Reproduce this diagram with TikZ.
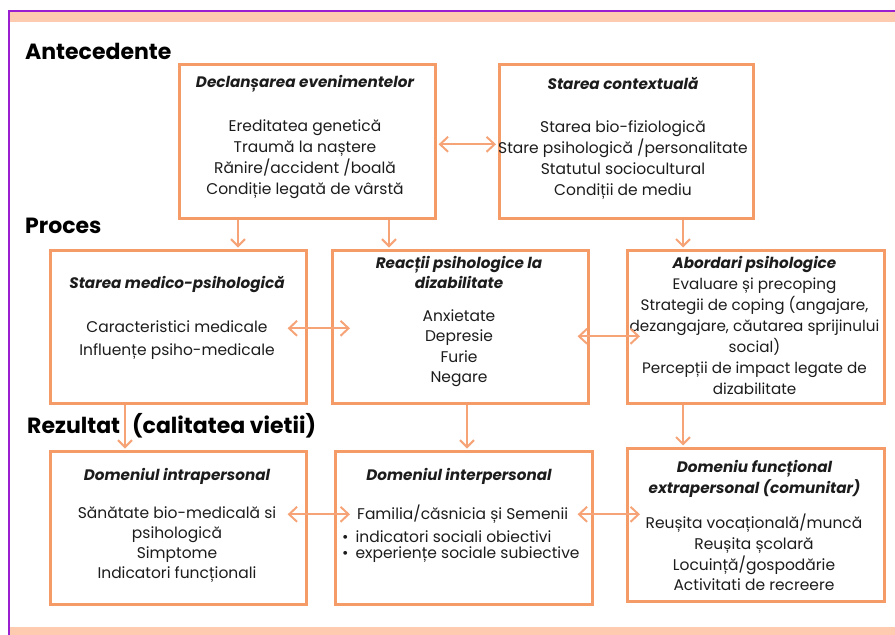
\documentclass[tikz,border=0pt]{standalone}
\usepackage{fontspec}
\setmainfont{Poppins}
\usetikzlibrary{arrows.meta,calc}
\definecolor{boxc}{HTML}{F59B68}
\definecolor{arrc}{HTML}{F6A477}
\definecolor{bandc}{HTML}{FFCBB0}
\definecolor{framec}{HTML}{9A1FD0}
\definecolor{ink}{HTML}{1C1C1C}
\begin{document}
\begin{tikzpicture}[x=1pt,y=-1pt,
  panel/.style={draw=boxc,line width=2.6pt,anchor=north west,inner sep=0pt},
  head/.style={font=\fontsize{15.2}{20.5}\selectfont\bfseries\itshape,text=ink,align=center,inner sep=0pt},
  body/.style={font=\fontsize{15.5}{21}\selectfont,text=ink,align=center,inner sep=0pt},
  section/.style={font=\fontsize{22}{26}\selectfont\bfseries,text=black,anchor=base west,inner sep=0pt},
  flow/.style={draw=arrc,line width=2.4pt,shorten >=1.5pt,-{Straight Barb[length=7pt,width=14pt,line width=2pt]}},
  link/.style={draw=arrc,line width=2pt,{Straight Barb[length=8pt,width=15pt]}-{Straight Barb[length=8pt,width=15pt]}},
]
\useasboundingbox (0,0) rectangle (895,635);

% page frame
\fill[bandc] (10,12) rectangle (895,22);
\fill[bandc] (10,627) rectangle (895,635);
\draw[framec,line width=2pt] (9,635) -- (9,11) -- (895,11);

% section labels
\node[section] (lant) at (25,59) {Antecedente};
\node[section] (lproc) at (25,233) {Proces};
\node[section] (lrez) at (27,433) {Rezultat\hspace{0.55em}(calitatea vietii)};

% boxes
\node[panel,minimum width=256pt,minimum height=154pt] (decl) at (178,63) {};
\node[panel,minimum width=254pt,minimum height=154pt] (ctx) at (498,63) {};
\node[panel,minimum width=256pt,minimum height=153pt] (medico) at (49,249) {};
\node[panel,minimum width=256pt,minimum height=153pt] (reac) at (331,249) {};
\node[panel,minimum width=257pt,minimum height=153pt] (abord) at (626,249) {};
\node[panel,minimum width=256pt,minimum height=153pt] (intra) at (49,450) {};
\node[panel,minimum width=257pt,minimum height=153pt] (inter) at (334,450) {};
\node[panel,minimum width=257pt,minimum height=153pt] (func) at (626,447) {};

% texts
\node[head] (declh) at (305,84) {Declanșarea evenimentelor};
\node[body] (declb) at (305,159.5) {Ereditatea genetică\\Traumă la naștere\\Rănire/accident /boală\\Condiție legată de vârstă};

\node[head] (ctxh) at (623,84) {Starea contextuală};
\node[body] (ctxb) at (623,159.5) {Starea bio-fiziologică\\Stare psihologică /personalitate\\Statutul sociocultural\\Condiții de mediu};

\node[head] (medicoh) at (177,284) {Starea medico-psihologică};
\node[body,font=\fontsize{15.5}{23}\selectfont] (medicob) at (177,340.5) {Caracteristici medicale\\Influențe psiho-medicale};

\node[head] (reach) at (459,272.5) {Reacții psihologice la\\dizabilitate};
\node[body,font=\fontsize{15.5}{20.5}\selectfont] (reacb) at (459,348) {Anxietate\\Depresie\\Furie\\Negare};

\node[body,font=\fontsize{15.2}{21}\selectfont] (abordb) at (754.5,325.5) {{\fontsize{15.2}{21}\selectfont\bfseries\itshape Abordari psihologice}\\Evaluare și precoping\\Strategii de coping (angajare,\\dezangajare, căutarea sprijinului\\social)\\Percepții de impact legate de\\dizabilitate};

\node[head] (intrah) at (177,476) {Domeniul intrapersonal};
\node[body,font=\fontsize{15.5}{19.7}\selectfont] (intrab) at (177,544.5) {Sănătate bio-medicală si\\psihologică\\Simptome\\Indicatori funcționali};

\node[head] (interh) at (459,476) {Domeniul interpersonal};
\node[body,anchor=west] (interb) at (357,514) {Familia/căsnicia și Semenii};
\node[body,anchor=west,align=left,font=\fontsize{15.5}{16}\selectfont] (interl) at (342,546.5) {•\hspace{7pt}indicatori sociali obiectivi\\•\hspace{7pt}experiențe sociale subiective};

\node[head] (funch) at (754.5,479) {Domeniu funcțional\\extrapersonal (comunitar)};
\node[body,font=\fontsize{15.5}{20.7}\selectfont] (funcb) at (754,552.5) {Reușita vocațională/muncă\\Reușita școlară\\Locuință/gospodărie\\Activitati de recreere};

% downward flow
\draw[flow] (decl.south -| 238,0) -- (medico.north -| 238,0);
\draw[flow] (decl.south -| 389,0) -- (reac.north -| 389,0);
\draw[flow] (ctx.south -| 683,0) -- (abord.north -| 683,0);
\draw[flow] (medico.south -| 125,0) -- (intra.north -| 125,0);
\draw[flow] (reac.south -| 467,0) -- (inter.north -| 467,0);
\draw[flow] (abord.south -| 683,0) -- (func.north -| 683,0);

% two-way links
\draw[link] ([xshift=2pt,yshift=-3pt]decl.east) -- ([xshift=-2pt,yshift=-3pt]ctx.west);
\draw[link] ([xshift=-20pt,yshift=-1.5pt]medico.east) -- ([xshift=19pt,yshift=-1.5pt]reac.west);
\draw[link] ([xshift=-12pt,yshift=-9.5pt]reac.east) -- ([xshift=14pt,yshift=-9.5pt]abord.west);
\draw[link] ([xshift=-20pt,yshift=13.5pt]intra.east) -- ([xshift=16pt,yshift=13.5pt]inter.west);
\draw[link] ([xshift=-16pt,yshift=13.5pt]inter.east) -- ([xshift=14pt,yshift=10.5pt]func.west);
\end{tikzpicture}
\end{document}
